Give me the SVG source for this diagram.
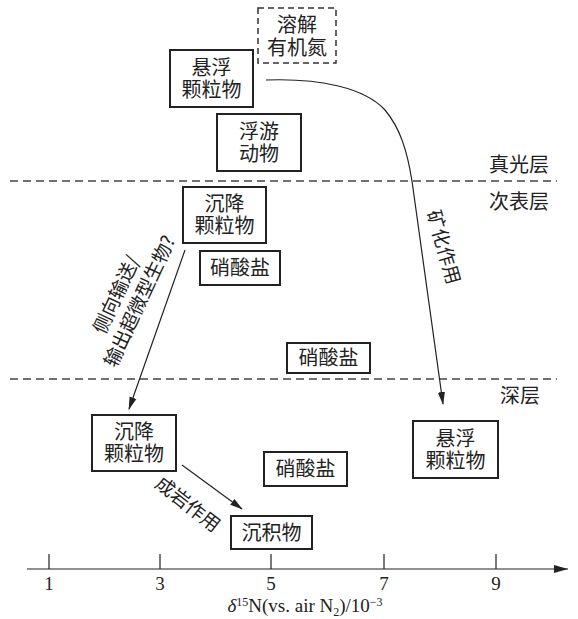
<svg xmlns="http://www.w3.org/2000/svg" width="578" height="619" viewBox="0 0 578 619">
<style>
.bx{fill:#fff;stroke:#222;stroke-width:2}
.dbx{fill:#fff;stroke:#333;stroke-width:1.5;stroke-dasharray:6 4}
.t{font-family:"Noto Sans CJK SC","Noto Sans CJK JP",sans-serif;font-size:20px;fill:#222;text-anchor:middle}
.lt{font-family:"Noto Sans CJK SC","Noto Sans CJK JP",sans-serif;font-size:19px;fill:#222;text-anchor:middle}
.num{font-family:"Liberation Serif",serif;font-size:19px;fill:#222;text-anchor:middle}
.ln{fill:none;stroke:#222;stroke-width:1.2}
.dl{fill:none;stroke:#444;stroke-width:1.3;stroke-dasharray:8 5}
</style>
<defs>
<marker id="ah" markerUnits="userSpaceOnUse" markerWidth="13" markerHeight="8" viewBox="0 0 13 8" refX="12" refY="4" orient="auto">
<path d="M0,0.4 L13,4 L0,7.6 z" fill="#222"/>
</marker>
<marker id="axh" markerUnits="userSpaceOnUse" markerWidth="14" markerHeight="9" viewBox="0 0 14 9" refX="14" refY="4.5" orient="auto">
<path d="M0,0.5 L14,4.5 L0,8.5 z" fill="#222"/>
</marker>
</defs>

<g id="layers">
<path class="dl" d="M10,181 L557,181"/>
<path class="dl" d="M10,379 L557,379"/>
<text class="t" x="519" y="172">真光层</text>
<text class="t" x="519" y="209">次表层</text>
<text class="t" x="520" y="403">深层</text>
</g>

<g id="connectors">
<path class="ln" d="M266,80 C320,78 365,88 385,110 C400,128 407,150 412,181 L443,404" marker-end="url(#ah)"/>
<path class="ln" d="M185,250 L129,409" marker-end="url(#ah)"/>
<path class="ln" d="M182,465 L242,509" marker-end="url(#ah)"/>
<text class="lt" transform="translate(444,247) rotate(74)" y="7">矿化作用</text>
<text class="lt" transform="translate(128.5,296) rotate(-65)"><tspan x="-4" y="-5">侧向输送/</tspan><tspan x="0" y="19">输出超微型生物?</tspan></text>
<text class="lt" transform="translate(188,504) rotate(38)" y="7">成岩作用</text>
</g>

<g id="n-dissolved">
<rect class="dbx" x="258" y="8" width="78" height="55"/>
<text class="t"><tspan x="297" y="32">溶解</tspan><tspan x="297" y="55">有机氮</tspan></text>
</g>
<g id="n-susp-top">
<rect class="bx" x="170" y="50" width="83" height="57"/>
<text class="t"><tspan x="211.5" y="75">悬浮</tspan><tspan x="211.5" y="97">颗粒物</tspan></text>
</g>
<g id="n-zoo">
<rect class="bx" x="217" y="114" width="84" height="57"/>
<text class="t"><tspan x="259" y="139">浮游</tspan><tspan x="259" y="161">动物</tspan></text>
</g>
<g id="n-sink-top">
<rect class="bx" x="183" y="187" width="83" height="56"/>
<text class="t"><tspan x="224.5" y="211">沉降</tspan><tspan x="224.5" y="233">颗粒物</tspan></text>
</g>
<g id="n-nitrate1">
<rect class="bx" x="200" y="251" width="80" height="34"/>
<text class="t" x="240" y="275">硝酸盐</text>
</g>
<g id="n-nitrate2">
<rect class="bx" x="287" y="343" width="83" height="30"/>
<text class="t" x="328.5" y="365">硝酸盐</text>
</g>
<g id="n-sink-bottom">
<rect class="bx" x="92" y="415" width="84" height="56"/>
<text class="t"><tspan x="134" y="439">沉降</tspan><tspan x="134" y="461">颗粒物</tspan></text>
</g>
<g id="n-nitrate3">
<rect class="bx" x="264" y="452" width="83" height="34"/>
<text class="t" x="305.5" y="476">硝酸盐</text>
</g>
<g id="n-sediment">
<rect class="bx" x="231" y="516" width="81" height="33"/>
<text class="t" x="271.5" y="540">沉积物</text>
</g>
<g id="n-susp-bottom">
<rect class="bx" x="413" y="421" width="85" height="57"/>
<text class="t"><tspan x="455.5" y="446">悬浮</tspan><tspan x="455.5" y="468">颗粒物</tspan></text>
</g>

<g id="axis">
<path class="ln" d="M27,569 L568,569" marker-end="url(#axh)"/>
<path class="ln" d="M49,554 V569 M160,554 V569 M271,554 V569 M384,554 V569 M496,554 V569"/>
<text class="num" x="49" y="590">1</text>
<text class="num" x="160" y="590">3</text>
<text class="num" x="271" y="590">5</text>
<text class="num" x="384" y="590">7</text>
<text class="num" x="496" y="590">9</text>
<text x="305" y="612" font-family="Liberation Serif,serif" font-size="19" fill="#222" text-anchor="middle"><tspan font-style="italic">δ</tspan><tspan font-size="12" dy="-6">15</tspan><tspan dy="6">N(vs. air N</tspan><tspan font-size="12" dy="4">2</tspan><tspan dy="-4">)/10</tspan><tspan font-size="12" dy="-6">−3</tspan></text>
</g>
</svg>
